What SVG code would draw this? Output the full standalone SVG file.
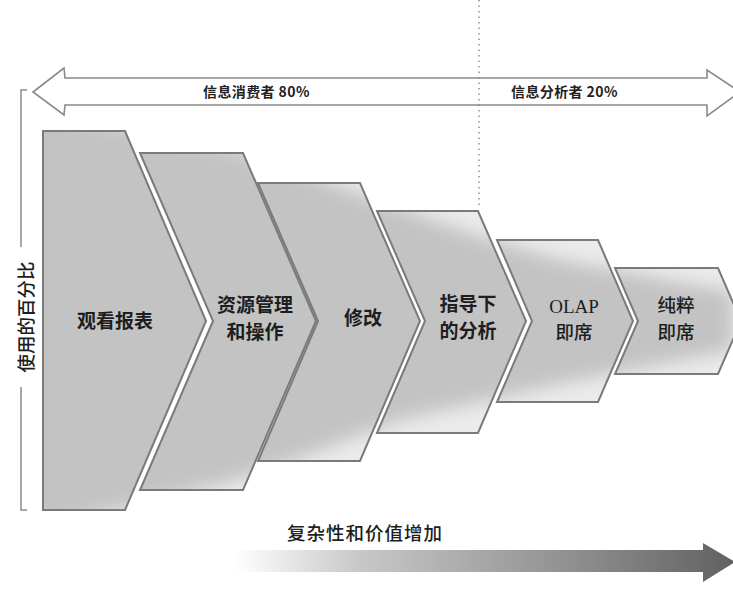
<svg xmlns="http://www.w3.org/2000/svg" width="733" height="590" viewBox="0 0 733 590">
<style>
.chevline{fill:none;stroke:#7a7a7a;stroke-width:2;stroke-linejoin:miter}
.lbl{font-family:"Noto Sans CJK SC","Noto Sans",sans-serif;font-weight:bold;font-size:19px;fill:#1e1e1e;text-anchor:middle}
.lbl2{font-family:"Noto Sans CJK SC","Noto Sans",sans-serif;font-weight:500;font-size:18.5px;fill:#1e1e1e;text-anchor:middle}
.top{font-family:"Noto Sans CJK SC","Liberation Sans",sans-serif;font-weight:bold;font-size:14px;fill:#222;letter-spacing:0.4px}
.outline{fill:#fff;stroke:#8a8a8a;stroke-width:1.6}
</style>
<defs>
<filter id="blur" x="-20%" y="-30%" width="140%" height="160%"><feGaussianBlur stdDeviation="9"/></filter>
<clipPath id="chevclip">
<polygon points="43,131 125,131 206,321 125,510 43,510"/>
<polygon points="140,153 243,153 316,321 243,490 140,490 213,321"/>
<polygon points="258,183 360,183 420,321 360,461 258,461 318,321"/>
<polygon points="377,211 478,211 526,321 478,433 377,433 425,321"/>
<polygon points="497,240 598,240 633,321 598,402 497,402 532,321"/>
<polygon points="615,268 718,268 741,321 718,374 615,374 638,321"/>
</clipPath>
<linearGradient id="bottomGrad" x1="235" y1="0" x2="733" y2="0" gradientUnits="userSpaceOnUse">
<stop offset="0" stop-color="#ffffff"/>
<stop offset="0.25" stop-color="#c8c8c8"/>
<stop offset="0.7" stop-color="#8c8c8c"/>
<stop offset="1" stop-color="#616161"/>
</linearGradient>
</defs>

<g id="top-arrow">
<polygon class="outline" points="33,92 64,68 65,78 707,78 707,70 740,92 707,116 707,105 65,105 64,115"/>
<text class="top" x="203" y="97">信息消费者 80%</text>
<text class="top" x="511" y="97">信息分析者 20%</text>
</g>
<g id="divider">
<line x1="479" y1="0" x2="479" y2="206" stroke="#8a8a8a" stroke-width="1.4" stroke-dasharray="1.5 4"/>
</g>

<g id="y-axis">
<polyline points="27,90 21,90 21,247" fill="none" stroke="#8a8a8a" stroke-width="1.5"/>
<polyline points="21,387 21,510 27,510" fill="none" stroke="#8a8a8a" stroke-width="1.5"/>
<text transform="translate(28,317) rotate(-90)" class="lbl2" font-size="18" dominant-baseline="middle">使用的百分比</text>
</g>

<g id="chevron-fills">
<g clip-path="url(#chevclip)">
<rect x="0" y="100" width="733" height="440" fill="#ebebeb"/>
<polygon points="0,100 240,150 350,190 470,233 560,260 733,292 733,350 560,384 400,420 300,458 230,482 0,540" fill="#c3c3c3" filter="url(#blur)"/>
</g>
</g>

<g id="n1">
<polygon class="chevline" points="43,131 125,131 206,321 125,510 43,510"/>
<text class="lbl" x="115" y="328">观看报表</text>
</g>
<g id="n2">
<polygon class="chevline" points="140,153 243,153 316,321 243,490 140,490 213,321"/>
<text class="lbl" x="255" y="312">资源管理</text>
<text class="lbl" x="255" y="339">和操作</text>
</g>
<g id="n3">
<polygon class="chevline" points="258,183 360,183 420,321 360,461 258,461 318,321"/>
<text class="lbl" x="363" y="325">修改</text>
</g>
<g id="n4">
<polygon class="chevline" points="377,211 478,211 526,321 478,433 377,433 425,321"/>
<text class="lbl" x="468" y="311">指导下</text>
<text class="lbl" x="468" y="338">的分析</text>
</g>
<g id="n5">
<polygon class="chevline" points="497,240 598,240 633,321 598,402 497,402 532,321"/>
<text x="574" y="313" font-family="Liberation Serif,serif" font-size="19" fill="#1e1e1e" text-anchor="middle">OLAP</text>
<text class="lbl2" x="574" y="339">即席</text>
</g>
<g id="n6">
<polygon class="chevline" points="615,268 718,268 741,321 718,374 615,374 638,321"/>
<text class="lbl2" x="676" y="312">纯粹</text>
<text class="lbl2" x="676" y="339">即席</text>
</g>

<g id="bottom-arrow">
<text class="lbl2" x="365" y="540" font-size="19" letter-spacing="1">复杂性和价值增加</text>
<polygon points="235,550 703,550 703,543 735,562 703,582 703,572 235,572" fill="url(#bottomGrad)"/>
</g>
</svg>
